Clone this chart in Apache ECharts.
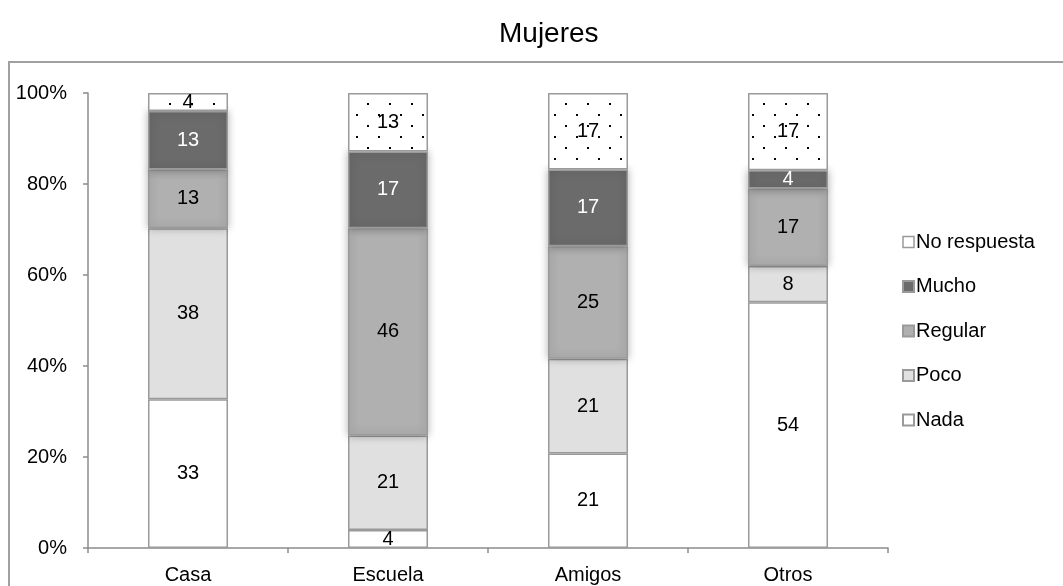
<!DOCTYPE html>
<html>
<head>
<meta charset="utf-8">
<script src="https://cdn.jsdelivr.net/npm/echarts@6/dist/echarts.min.js"></script>
<style>
  html, body { margin: 0; padding: 0; background: #fff; }
  #chart { width: 1063px; height: 586px; }
</style>
</head>
<body>
<div id="chart"></div>
<script>
// Survey responses by setting (percent labels per segment)
const categories = ['Casa', 'Escuela', 'Amigos', 'Otros'];
const nada        = [33, 4, 21, 54];
const poco        = [38, 21, 21, 8];
const regular     = [13, 46, 25, 17];
const mucho       = [13, 17, 17, 4];
const noRespuesta = [4, 13, 17, 17];
const yTickLabels = ['0%', '20%', '40%', '60%', '80%', '100%'];

const seriesDefs = [
  { name: 'Nada', values: nada, color: '#ffffff', text: '#000' },
  { name: 'Poco', values: poco, color: '#e0e0e0', text: '#000' },
  { name: 'Regular', values: regular, color: '#b0b0b0', text: '#000', shadow: true },
  { name: 'Mucho', values: mucho, color: '#6b6b6b', text: '#fff', shadow: true },
  { name: 'No respuesta', values: noRespuesta, color: null, text: '#000' }
];

// Totals per category, so every column fills 100%
const totals = categories.map((_, i) =>
  seriesDefs.reduce((s, d) => s + d.values[i], 0));

// Dotted fill for "No respuesta"
const dotCanvas = document.createElement('canvas');
dotCanvas.width = 22; dotCanvas.height = 22;
const dctx = dotCanvas.getContext('2d');
dctx.fillStyle = '#fff';
dctx.fillRect(0, 0, 22, 22);
dctx.fillStyle = '#000';
dctx.fillRect(4, 4, 2, 2);
dctx.fillRect(15, 15, 2, 2);

const chart = echarts.init(document.getElementById('chart'), null, { renderer: 'canvas' });

const font = '"Liberation Sans", Arial, sans-serif';

const series = seriesDefs.map(d => ({
  name: d.name,
  type: 'bar',
  stack: 'total',
  barWidth: 80,
  data: d.values.map((v, i) => ({ value: v / totals[i] * 100, raw: v })),
  itemStyle: {
    color: d.color || { image: dotCanvas, repeat: 'repeat' },
    borderColor: '#9a9a9a',
    borderWidth: 1.5,
    shadowBlur: d.shadow ? 8 : 0,
    shadowColor: 'rgba(0,0,0,0.3)'
  },
  label: {
    show: true,
    position: 'inside',
    color: d.text,
    fontFamily: font,
    fontSize: 20,
    formatter: p => String(p.data.raw)
  },
  emphasis: { disabled: true }
}));

chart.setOption({
  animation: false,
  backgroundColor: '#fff',
  title: {
    text: 'Mujeres',
    left: 494,
    top: 15,
    textStyle: { fontFamily: font, fontSize: 28, fontWeight: 'normal', color: '#000' }
  },
  graphic: [{
    type: 'rect',
    shape: { x: 9, y: 62, width: 1070, height: 540 },
    style: { fill: 'none', stroke: '#a0a0a0', lineWidth: 2 },
    silent: true
  }],
  legend: {
    orient: 'vertical',
    left: 897,
    top: 227,
    itemWidth: 11,
    itemHeight: 11,
    itemGap: 24.5,
    icon: 'rect',
    textStyle: { fontFamily: font, fontSize: 20, color: '#000', padding: [0, 0, 0, -3] },
    data: [
      { name: 'No respuesta', itemStyle: { color: '#fff', borderColor: '#9a9a9a', borderWidth: 1.5, shadowBlur: 0 } },
      { name: 'Mucho', itemStyle: { shadowBlur: 0 } },
      { name: 'Regular', itemStyle: { shadowBlur: 0 } },
      { name: 'Poco', itemStyle: { shadowBlur: 0 } },
      { name: 'Nada', itemStyle: { shadowBlur: 0 } }
    ]
  },
  grid: { left: 88, top: 93, width: 800, height: 455, containLabel: false },
  xAxis: {
    type: 'category',
    data: categories,
    axisLine: { lineStyle: { color: '#8c8c8c', width: 1.5 } },
    axisTick: { show: true, alignWithLabel: false, length: 5, lineStyle: { color: '#8c8c8c', width: 1.5 } },
    axisLabel: { fontFamily: font, fontSize: 20, color: '#000', margin: 17 }
  },
  yAxis: {
    type: 'value',
    min: 0,
    max: 100,
    interval: 20,
    axisLine: { show: true, lineStyle: { color: '#8c8c8c', width: 1.5 } },
    axisTick: { show: true, length: 5, lineStyle: { color: '#8c8c8c', width: 1.5 } },
    splitLine: { show: false },
    axisLabel: {
      fontFamily: font, fontSize: 20, color: '#000', margin: 21,
      formatter: v => yTickLabels[Math.round(v / 20)]
    }
  },
  series
});
</script>
</body>
</html>
